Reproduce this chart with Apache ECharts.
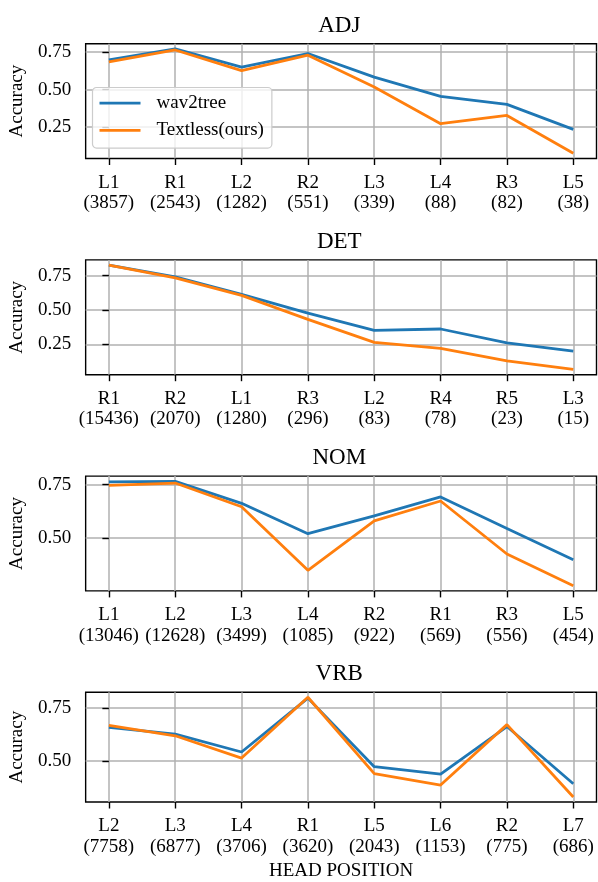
<!DOCTYPE html>
<html>
<head>
<meta charset="utf-8">
<script src="https://cdn.jsdelivr.net/npm/echarts@6/dist/echarts.min.js"></script>
<style>
html,body{margin:0;padding:0;background:#fff;}
#chart{width:598px;height:882px;}
</style>
</head>
<body>
<div id="chart"></div>
<script>
// ---- data ----
const panelTitles = ['ADJ', 'DET', 'NOM', 'VRB'];

const categoriesADJ = ['L1', 'R1', 'L2', 'R2', 'L3', 'L4', 'R3', 'L5'];
const countsADJ = [3857, 2543, 1282, 551, 339, 88, 82, 38];
const wav2treeADJ = [0.699, 0.772, 0.650, 0.741, 0.583, 0.454, 0.401, 0.234];
const textlessADJ = [0.685, 0.765, 0.627, 0.730, 0.517, 0.272, 0.327, 0.074];

const categoriesDET = ['R1', 'R2', 'L1', 'R3', 'L2', 'R4', 'R5', 'L3'];
const countsDET = [15436, 2070, 1280, 296, 83, 78, 23, 15];
const wav2treeDET = [0.826, 0.740, 0.614, 0.478, 0.352, 0.362, 0.262, 0.202];
const textlessDET = [0.826, 0.733, 0.606, 0.432, 0.265, 0.221, 0.131, 0.068];

const categoriesNOM = ['L1', 'L2', 'L3', 'L4', 'R2', 'R1', 'R3', 'L5'];
const countsNOM = [13046, 12628, 3499, 1085, 922, 569, 556, 454];
const wav2treeNOM = [0.763, 0.766, 0.663, 0.521, 0.604, 0.693, 0.545, 0.399];
const textlessNOM = [0.747, 0.758, 0.647, 0.350, 0.581, 0.674, 0.426, 0.278];

const categoriesVRB = ['L2', 'L3', 'L4', 'R1', 'L5', 'L6', 'R2', 'L7'];
const countsVRB = [7758, 6877, 3706, 3620, 2043, 1153, 775, 686];
const wav2treeVRB = [0.659, 0.627, 0.542, 0.798, 0.472, 0.437, 0.663, 0.391];
const textlessVRB = [0.668, 0.619, 0.513, 0.802, 0.439, 0.385, 0.672, 0.328];

const yTickValues = [0.25, 0.50, 0.75];
const seriesNames = ['wav2tree', 'Textless(ours)'];

// ---- build ----
const panels = [
  {cats: categoriesADJ, counts: countsADJ, a: wav2treeADJ, b: textlessADJ},
  {cats: categoriesDET, counts: countsDET, a: wav2treeDET, b: textlessDET},
  {cats: categoriesNOM, counts: countsNOM, a: wav2treeNOM, b: textlessNOM},
  {cats: categoriesVRB, counts: countsVRB, a: wav2treeVRB, b: textlessVRB}
];

const FONT = "'Liberation Serif', 'Times New Roman', Times, serif";
const BLUE = '#1f77b4', ORANGE = '#ff7f0e';
const GRID_LEFT = 82, GRID_RIGHT = 1.5, TOP0 = 43.7, STEP = 216.2, H = 114.8;

const grids = [], xAxes = [], yAxes = [], series = [], titles = [];

panels.forEach((p, i) => {
  const n = p.cats.length;
  const all = p.a.concat(p.b);
  const lo = Math.min(...all), hi = Math.max(...all);
  const pad = (hi - lo) * 0.05;
  const ymin = lo - pad, ymax = hi + pad;
  const xIdx = p.cats.map((c, k) => k);

  grids.push({
    left: GRID_LEFT, right: GRID_RIGHT, top: TOP0 + i * STEP, height: H,
    show: true, borderColor: '#000', borderWidth: 1.4, backgroundColor: 'transparent',
    containLabel: false
  });

  xAxes.push({
    type: 'value', gridIndex: i, min: -0.35, max: n - 1 + 0.35,
    axisLine: {show: false},
    axisTick: {show: true, length: 6.5, inside: false, lineStyle: {color: '#000', width: 1.4}, customValues: xIdx},
    axisLabel: {
      customValues: xIdx, margin: 14, fontFamily: FONT, fontSize: 19, lineHeight: 20.5, color: '#000',
      formatter: v => { const k = Math.round(v); return p.cats[k] + '\n(' + p.counts[k] + ')'; }
    },
    splitLine: {show: true, lineStyle: {color: '#b0b0b0', width: 1.5}},
    name: i === 3 ? 'HEAD POSITION' : '',
    nameLocation: 'middle', nameGap: 60,
    nameTextStyle: {fontFamily: FONT, fontSize: 19, color: '#000'}
  });

  const yt = yTickValues.filter(v => v >= ymin && v <= ymax);
  yAxes.push({
    type: 'value', gridIndex: i, min: ymin, max: ymax,
    axisLine: {show: false},
    axisTick: {show: true, length: 6.5, lineStyle: {color: '#000', width: 1.4}, customValues: yt},
    axisLabel: {customValues: yt, margin: 14.5, fontFamily: FONT, fontSize: 19, color: '#000',
      formatter: v => v.toFixed(2)},
    splitLine: {show: true, lineStyle: {color: '#b0b0b0', width: 1.5}},
    name: 'Accuracy', nameLocation: 'middle', nameGap: 56,
    nameTextStyle: {fontFamily: FONT, fontSize: 19, color: '#000'}
  });

  [p.a, p.b].forEach((vals, s) => {
    series.push({
      type: 'line', name: seriesNames[s], xAxisIndex: i, yAxisIndex: i,
      data: vals.map((v, k) => [k, v]),
      showSymbol: false, symbol: 'none',
      lineStyle: {color: s === 0 ? BLUE : ORANGE, width: 2.8},
      itemStyle: {color: s === 0 ? BLUE : ORANGE},
      emphasis: {disabled: true}, animation: false, z: 3 + s
    });
  });

  titles.push({
    text: panelTitles[i], left: GRID_LEFT + (598 - GRID_LEFT - GRID_RIGHT) / 2, textAlign: 'center',
    top: 12.5 + i * STEP, padding: 0,
    textStyle: {fontFamily: FONT, fontSize: 23, fontWeight: 'normal', color: '#000', lineHeight: 26}
  });
});

const chart = echarts.init(document.getElementById('chart'), null, {renderer: 'canvas'});
chart.setOption({
  animation: false,
  backgroundColor: '#fff',
  title: titles,
  grid: grids,
  xAxis: xAxes,
  yAxis: yAxes,
  series: series,
  legend: {
    data: seriesNames, orient: 'vertical', left: 92.5, top: 87.5,
    icon: 'rect', itemWidth: 41, itemHeight: 2.8, itemGap: 4,
    backgroundColor: 'rgba(255,255,255,0.8)', borderColor: '#cccccc', borderWidth: 1.2, borderRadius: 4,
    padding: [4, 8, 6, 7],
    textStyle: {fontFamily: FONT, fontSize: 19, color: '#000', lineHeight: 23.3, padding: [0, 0, 0, 11]},
    selectedMode: false, z: 10
  }
});
</script>
</body>
</html>
